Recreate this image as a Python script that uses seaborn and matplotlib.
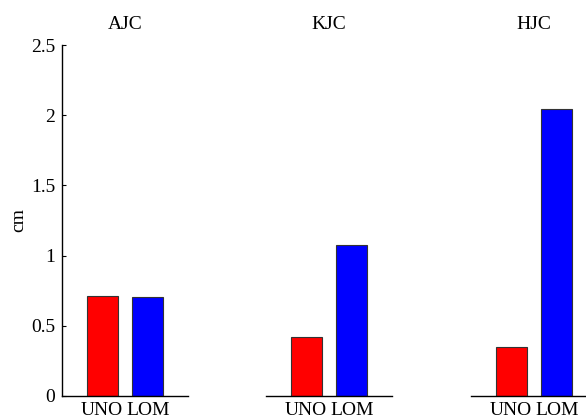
import matplotlib
matplotlib.use("Agg")
import matplotlib.pyplot as plt
import seaborn as sns
import pandas as pd

# Joint-center displacement for the two methods
joints = ["AJC", "KJC", "HJC"]
methods = ["UNO", "LOM"]
uno_values = [0.712, 0.420, 0.351]
lom_values = [0.707, 1.073, 2.042]
y_ticks = [0, 0.5, 1, 1.5, 2, 2.5]
y_tick_labels = ["0", "0.5", "1", "1.5", "2", "2.5"]

df = pd.DataFrame({
    "joint": [j for j in joints for _ in methods],
    "method": methods * len(joints),
    "value": [v for pair in zip(uno_values, lom_values) for v in pair],
})

sns.set_theme(style="white")
plt.rcParams["font.family"] = ["Liberation Serif", "DejaVu Serif"]
plt.rcParams["font.size"] = 14
plt.rcParams["text.color"] = "black"
plt.rcParams["axes.labelcolor"] = "black"
plt.rcParams["axes.titlecolor"] = "black"

fig = plt.figure(figsize=(5.86, 4.16), dpi=100)
palette = {"UNO": "#ff0000", "LOM": "#0000ff"}

lefts = [62 / 586, 266 / 586, 471 / 586]
width = 126 / 586
bottom = 1 - 396 / 416
height = (396 - 45) / 416

for i, (joint, left) in enumerate(zip(joints, lefts)):
    ax = fig.add_axes([left, bottom, width, height])
    sub = df[df["joint"] == joint]
    sns.barplot(data=sub, x="method", y="value", hue="method", order=methods,
                hue_order=methods, palette=palette, width=0.68,
                edgecolor="#333333", linewidth=0.8, legend=False,
                errorbar=None, ax=ax, saturation=1)
    ax.set_xlim(-0.88, 1.88)
    ax.set_ylim(0, 2.5)
    ax.set_xlabel("")
    ax.set_title(joint, fontsize=14, pad=11.5, color="black")
    for s in ["top", "right"]:
        ax.spines[s].set_visible(False)
    ax.spines["bottom"].set_color("black")
    ax.spines["bottom"].set_linewidth(1.0)
    ax.tick_params(axis="x", length=0, pad=4, labelsize=14, colors="black")
    if i == 0:
        ax.spines["left"].set_color("black")
        ax.spines["left"].set_linewidth(1.0)
        ax.set_yticks(y_ticks)
        ax.set_yticklabels(y_tick_labels)
        ax.tick_params(axis="y", direction="in", length=3, width=0.8,
                       pad=5, labelsize=14, colors="black", left=True)
        ax.set_ylabel("cm", fontsize=14, labelpad=2.5, color="black")
    else:
        ax.spines["left"].set_visible(False)
        ax.set_yticks([])
        ax.set_ylabel("")

fig.savefig("out.png", dpi=100)
